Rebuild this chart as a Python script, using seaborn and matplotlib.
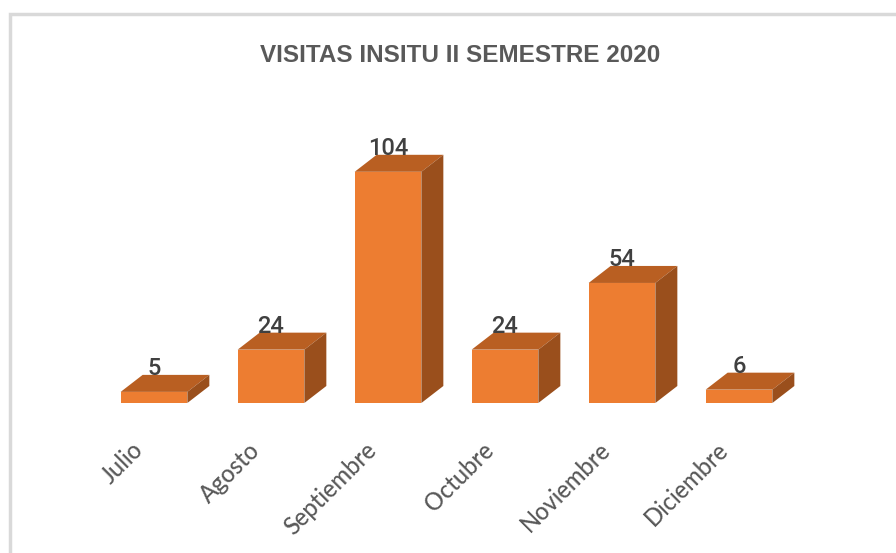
import matplotlib
matplotlib.use("Agg")
import matplotlib.pyplot as plt
from matplotlib.patches import Polygon, Rectangle
from matplotlib.transforms import ScaledTranslation
import seaborn as sns
import pandas as pd

# Datos del gráfico
meses = ["Julio", "Agosto", "Septiembre", "Octubre", "Noviembre", "Diciembre"]
visitas = [5, 24, 104, 24, 54, 6]
titulo = "VISITAS INSITU II SEMESTRE 2020"

# Colores de las caras del prisma
FRENTE = "#ED7D31"
TAPA = "#B95F22"
LADO = "#9A4F1C"
GRIS_TEXTO = "#595959"

W, H, DPI = 896, 553, 100

sns.set_theme(style="white")
plt.rcParams["font.family"] = ["Lato", "DejaVu Sans"]

fig = plt.figure(figsize=(W / DPI, H / DPI), dpi=DPI)
fig.patch.set_facecolor("white")

# Área de trazado (en píxeles: izquierda 95.5, base 403, alto 289)
ax = fig.add_axes([95.5 / W, (H - 403) / H, 702 / W, 289 / H])

df = pd.DataFrame({"mes": meses, "visitas": visitas})
sns.barplot(data=df, x="mes", y="visitas", color=FRENTE, width=0.57,
            saturation=1, ax=ax, zorder=2, linewidth=0, errorbar=None)

ax.set_xlim(-0.5, 5.5)
ax.set_ylim(0, 130)
for s in ax.spines.values():
    s.set_visible(False)
ax.set_yticks([])
ax.set_xlabel("")
ax.set_ylabel("")

# Profundidad del efecto 3D (22 px a la derecha, 17 px hacia arriba)
dx = 22 * (ax.get_xlim()[1] - ax.get_xlim()[0]) / 702
dy = 17 * (ax.get_ylim()[1] - ax.get_ylim()[0]) / 289

for barra, valor in zip(ax.patches, visitas):
    x0, w, h = barra.get_x(), barra.get_width(), barra.get_height()
    tapa = Polygon([(x0, h), (x0 + w, h), (x0 + w + dx, h + dy), (x0 + dx, h + dy)],
                   closed=True, facecolor=TAPA, edgecolor="none", zorder=2)
    lado = Polygon([(x0 + w, 0), (x0 + w + dx, dy), (x0 + w + dx, h + dy), (x0 + w, h)],
                   closed=True, facecolor=LADO, edgecolor="none", zorder=2)
    ax.add_patch(tapa)
    ax.add_patch(lado)
    ax.text(x0 + w / 2, h + dy, str(valor), ha="center", va="baseline",
            fontsize=17, fontweight="medium", color="#404040",
            family=["Roboto", "DejaVu Sans"], zorder=5)

# Etiquetas de los meses, giradas 45°
ax.tick_params(axis="x", length=0, pad=31)
desplazamiento = ScaledTranslation(-15 / DPI, 0, fig.dpi_scale_trans)
for lab in ax.get_xticklabels():
    lab.set_rotation(45)
    lab.set_ha("right")
    lab.set_va("center")
    lab.set_rotation_mode("anchor")
    lab.set_fontsize(17)
    lab.set_fontweight("medium")
    lab.set_color(GRIS_TEXTO)
    lab.set_transform(lab.get_transform() + desplazamiento)

# Título
fig.text(460 / W, 1 - 62 / H, titulo, ha="center", va="baseline",
         fontsize=17.5, fontweight="bold", color=GRIS_TEXTO,
         family=["Liberation Sans", "DejaVu Sans"])

# Marco del área del gráfico
fig.add_artist(Rectangle((10 / W, -0.2), 2, 1.2 - 14 / H, transform=fig.transFigure,
                         fill=False, edgecolor="#D9D9D9", linewidth=2.5))

fig.savefig("out.png", dpi=DPI, facecolor="white")
